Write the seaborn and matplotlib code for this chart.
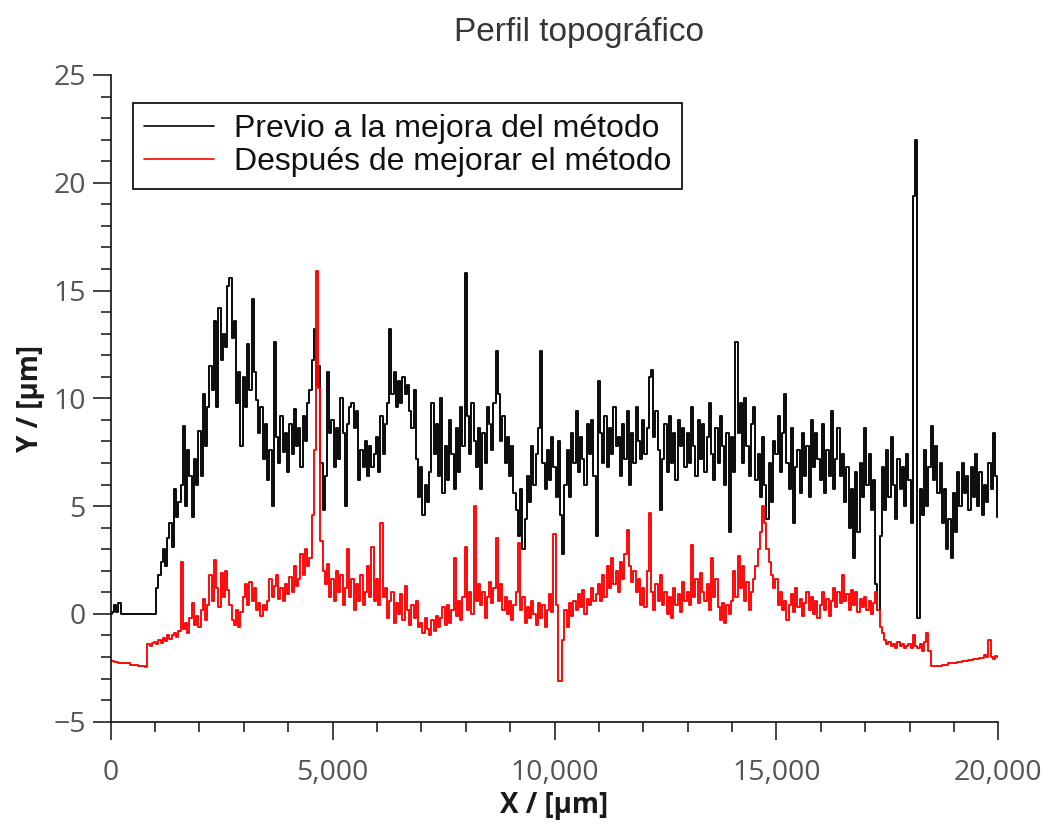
import numpy as np
import pandas as pd
import matplotlib
matplotlib.use("Agg")
import matplotlib.pyplot as plt
import matplotlib.ticker as mticker
import seaborn as sns

# ---------------- data (50 µm step) ----------------
x_step_um = 50
x_um = list(range(0, 20001, x_step_um))

series_prev_name = "Previo a la mejora del método"
series_post_name = "Después de mejorar el método"

y_prev = [
    # 0 - 950
    0, 0.1, 0.4, 0.1, 0.5, 0, 0, 0, 0, 0, 0, 0, 0, 0, 0, 0, 0, 0, 0, 0,
    # 1000 - 1950
    0, 1.2, 1.8, 2.4, 3.0, 2.2, 3.5, 4.2, 3.1, 5.8, 4.5, 5.2, 6.0, 8.7, 5.0, 7.6, 6.4, 4.5, 7.2, 6.0,
    # 2000 - 2950
    8.5, 6.4, 10.2, 7.8, 9.6, 11.5, 10.4, 13.6, 9.6, 14.2, 11.8, 13.0, 12.4, 15.2, 15.6, 12.8, 13.6, 9.8, 11.2, 7.8,
    # 3000 - 3950
    11.0, 9.6, 12.5, 10.4, 14.6, 11.2, 9.9, 8.4, 9.6, 7.2, 8.8, 6.2, 7.6, 5.0, 12.6, 8.2, 7.0, 9.2, 7.5, 8.4,
    # 4000 - 4950
    6.6, 8.8, 7.4, 9.5, 7.8, 8.6, 6.8, 9.2, 8.0, 9.8, 10.4, 11.8, 13.2, 10.6, 11.5, 7.0, 4.8, 6.4, 11.2, 8.4,
    # 5000 - 5950
    9.0, 6.8, 8.6, 7.2, 10.0, 8.4, 5.0, 8.8, 9.6, 9.8, 8.6, 9.4, 6.2, 7.6, 6.8, 8.0, 6.4, 7.8, 6.8, 7.4,
    # 6000 - 6950
    8.2, 6.6, 9.2, 7.4, 8.8, 9.8, 13.2, 10.2, 11.2, 9.6, 10.8, 9.8, 11.0, 10.2, 10.6, 9.4, 8.6, 10.4, 7.2, 5.4,
    # 7000 - 7950
    6.8, 4.6, 6.0, 5.2, 6.6, 9.8, 7.4, 8.8, 6.4, 10.0, 5.6, 7.8, 6.2, 9.0, 7.4, 5.8, 8.6, 6.6, 9.6, 7.8,
    # 8000 - 8950
    15.8, 9.2, 7.4, 9.8, 8.0, 6.8, 8.6, 5.8, 8.4, 7.0, 9.6, 8.8, 7.6, 9.8, 12.2, 10.2, 8.0, 9.2, 7.0, 8.2,
    # 9000 - 9950
    6.4, 7.8, 5.6, 4.8, 3.6, 5.8, 3.0, 4.4, 6.4, 5.2, 7.8, 6.0, 7.4, 8.6, 12.2, 7.0, 5.8, 7.6, 6.2, 8.2,
    # 10000 - 10950
    6.8, 5.4, 8.0, 4.6, 2.8, 6.0, 7.6, 5.4, 8.4, 7.0, 9.4, 6.6, 8.2, 7.2, 6.0, 8.8, 7.4, 9.0, 6.4, 3.6,
    # 11000 - 11950
    10.8, 8.4, 7.0, 9.2, 6.8, 8.6, 7.4, 9.6, 7.8, 8.2, 6.4, 8.8, 7.2, 9.4, 6.0, 8.4, 7.0, 9.6, 8.0, 7.2,
    # 12000 - 12950
    9.0, 7.4, 8.6, 11.0, 11.3, 8.2, 9.4, 7.6, 4.8, 7.2, 8.8, 6.6, 9.2, 7.0, 8.4, 6.2, 9.0, 7.8, 8.6, 6.8,
    # 13000 - 13950
    8.4, 7.0, 9.6, 7.8, 6.4, 9.0, 7.2, 8.8, 6.6, 8.2, 9.8, 7.4, 6.2, 8.6, 7.0, 9.2, 7.8, 6.0, 8.4, 3.8,
    # 14000 - 14950
    8.2, 6.6, 12.6, 8.4, 9.8, 7.0, 10.0, 7.8, 6.4, 8.8, 9.6, 6.2, 7.4, 5.4, 8.2, 6.0, 4.4, 7.0, 5.2, 8.0,
    # 15000 - 15950
    7.4, 9.2, 6.6, 8.4, 10.2, 7.0, 5.8, 8.6, 4.2, 6.8, 7.6, 5.6, 8.4, 6.4, 7.8, 5.4, 9.0, 6.8, 8.4, 7.2,
    # 16000 - 16950
    6.2, 8.8, 5.6, 7.6, 6.4, 9.4, 5.8, 7.2, 8.6, 6.4, 7.4, 5.2, 6.8, 4.0, 5.8, 2.6, 6.6, 3.8, 7.0, 5.4,
    # 17000 - 17950
    8.6, 6.0, 7.4, 4.8, 6.2, 1.4, 0.2, 3.6, 6.8, 4.8, 7.6, 5.4, 8.2, 6.0, 4.4, 7.2, 5.8, 6.8, 5.0, 7.4,
    # 18000 - 18950
    6.2, 4.2, 19.4, 22.0, -0.2, 5.8, 4.6, 7.6, 5.0, 6.8, 8.7, 6.2, 7.8, 5.6, 7.0, 4.2, 5.8, 3.0, 4.4, 2.6,
    # 19000 - 19950
    5.6, 3.8, 6.6, 5.0, 7.0, 5.6, 6.4, 4.8, 6.8, 5.4, 7.4, 5.0, 6.6, 4.6, 6.0, 5.2, 7.0, 5.8, 8.4, 6.4,
    # 20000
    4.5,
]

y_post = [
    # 0 - 950
    -2.2, -2.2, -2.25, -2.25, -2.3, -2.3, -2.3, -2.3, -2.3, -2.35, -2.35, -2.35, -2.35, -2.4, -2.4, -2.4, -2.45, -1.4, -1.5, -1.35,
    # 1000 - 1950
    -1.3, -1.4, -1.2, -1.35, -1.1, -1.25, -1.0, -1.15, -1.0, -0.9, -1.05, -0.8, 2.4, -0.7, -0.4, -0.9, -0.2, 0.5, -0.5, -0.1,
    # 2000 - 2950
    -0.6, 0.2, 0.7, -0.3, 0.4, 1.8, 0.6, 2.5, 1.2, 0.3, 1.9, 0.8, 2.0, 1.1, 0.4, -0.3, -0.5, 0.2, -0.6, 0.1,
    # 3000 - 3950
    0.8, 1.4, 0.4, 1.5, 0.6, 1.2, 0.2, 0.5, -0.1, 0.4, 0.2, 0.6, 1.6, 0.8, 1.3, 1.8, 0.7, 1.2, 0.6, 1.4,
    # 4000 - 4950
    0.9, 1.7, 1.0, 2.2, 1.3, 1.6, 2.8, 1.8, 3.0, 2.2, 2.6, 4.6, 7.6, 15.9, 10.5, 3.4, 2.0, 1.4, 2.3, 0.8,
    # 5000 - 5950
    1.6, 0.6, 2.0, 1.0, 1.8, 0.4, 1.2, 3.0, 0.8, 1.6, 0.2, 1.4, 0.6, 1.8, 0.4, 1.0, 2.2, 0.8, 3.1, 0.6,
    # 6000 - 6950
    1.6, 0.4, 4.2, 0.8, 1.2, -0.2, 0.6, 1.0, -0.4, 0.5, 0.0, 0.9, -0.3, 1.3, 0.2, -0.5, 0.4, -0.2, 0.6, -0.6,
    # 7000 - 7950
    -0.4, -0.9, -0.2, -0.7, -1.0, -0.3, -0.8, -0.1, -0.6, -0.2, 0.3, -0.5, 0.4, -0.4, 0.2, 2.6, -0.1, 0.6, -0.3, 0.8,
    # 8000 - 8950
    3.1, 0.2, 1.0, 0.0, 5.0, 0.6, 1.4, 0.4, 1.0, -0.2, 0.8, 1.5, 0.5, 1.2, 3.5, 0.6, 1.4, 0.2, 0.8, 0.0,
    # 9000 - 9950
    0.6, -0.3, 0.4, 1.0, 3.3, 0.2, 0.8, -0.4, 0.3, -0.2, 0.6, 0.0, -0.5, 0.5, -0.2, 0.4, -0.6, 0.2, 0.9, 0.1,
    # 10000 - 10950
    3.7, 0.4, -3.1, -3.1, -1.2, 0.2, -0.6, 0.5, -0.1, 0.6, 0.2, 0.9, 0.3, 1.1, 0.0, 0.7, 0.4, 1.2, 0.6, 0.9,
    # 11000 - 11950
    1.4, 0.6, 1.8, 0.8, 2.2, 1.2, 2.6, 1.4, 2.0, 1.0, 2.4, 1.6, 2.8, 3.9, 2.2, 1.5, 2.0, 1.0, 1.6, 0.4,
    # 12000 - 12950
    1.2, 0.3, 2.0, 4.7, 1.0, 0.2, 1.4, 0.6, 1.8, 0.4, 1.0, 0.0, 0.8, -0.2, 1.2, 0.4, 0.9, 0.1, 1.5, 0.6,
    # 13000 - 13950
    1.0, 0.4, 3.2, 0.8, 1.6, 0.5, 1.9, 1.0, 0.6, 1.4, 0.2, 2.6, 0.8, 1.6, 0.3, -0.3, 0.5, -0.4, 0.4, 0.0,
    # 14000 - 14950
    0.6, 2.0, 0.8, 2.7, 1.2, 2.2, 0.6, 1.5, 0.2, 1.0, 1.6, 2.2, 3.0, 3.8, 5.0, 4.2, 3.0, 2.4, 1.8, 1.2,
    # 15000 - 15950
    1.6, 0.4, 1.0, 0.2, 0.6, -0.3, 0.4, 0.9, 0.1, 1.2, 0.3, 0.7, -0.1, 0.5, 1.0, 0.2, 0.8, 0.0, 0.6, -0.2,
    # 16000 - 16950
    0.4, 1.0, 0.2, 0.7, -0.1, 0.6, 1.2, 0.3, 1.0, 0.5, 1.8, 0.6, 0.9, 0.2, 1.1, 0.4, 1.0, 0.1, 0.7, 0.3,
    # 17000 - 17950
    0.8, 0.2, 0.6, 0.0, 0.5, 1.0, 0.2, -0.6, -0.9, -1.2, -1.4, -1.3, -1.5, -1.4, -1.6, -1.3, -1.5, -1.4, -1.6, -1.5,
    # 18000 - 18950
    -1.4, -1.6, -1.0, -1.5, -1.6, -1.4, -1.7, -1.3, -0.9, -1.7, -2.4, -2.4, -2.4, -2.4, -2.4, -2.35, -2.35, -2.35, -2.3, -2.3,
    # 19000 - 19950
    -2.3, -2.3, -2.25, -2.25, -2.2, -2.2, -2.2, -2.15, -2.15, -2.1, -2.1, -2.1, -2.05, -2.05, -1.9, -2.0, -1.2, -2.0, -2.1, -1.95,
    # 20000
    -2.0,
]

x_ticks = [0, 5000, 10000, 15000, 20000]
y_ticks = [-5, 0, 5, 10, 15, 20, 25]
title_text = "Perfil topográfico"
x_label = "X / [µm]"
y_label = "Y / [µm]"

# ---------------- figure ----------------
sns.set_style("ticks")
plt.rcParams["font.family"] = ["Open Sans", "DejaVu Sans"]

fig = plt.figure(figsize=(10.49, 8.24), dpi=100)
ax = fig.add_axes([0.1055, 0.1242, 0.9517 - 0.1055, 0.909 - 0.1242])

df = pd.DataFrame({
    "x": x_um * 2,
    "y": y_prev + y_post,
    "serie": [series_prev_name] * len(x_um) + [series_post_name] * len(x_um),
})

sns.lineplot(data=df, x="x", y="y", hue="serie",
             palette={series_prev_name: "#000000", series_post_name: "#ff0000"},
             estimator=None, sort=False, linewidth=1.35,
             drawstyle="steps-mid", ax=ax)

ax.set_xlim(0, 20000)
ax.set_ylim(-5, 25)
ax.set_xticks(x_ticks)
ax.set_yticks(y_ticks)
ax.xaxis.set_minor_locator(mticker.MultipleLocator(1000))
ax.yaxis.set_minor_locator(mticker.MultipleLocator(1))
ax.xaxis.set_major_formatter(mticker.FuncFormatter(lambda v, p: f"{v:,.0f}"))
ax.yaxis.set_major_formatter(mticker.FuncFormatter(lambda v, p: f"{v:.0f}".replace("-", "\u2212")))

for s in ["top", "right"]:
    ax.spines[s].set_visible(False)
for s in ["left", "bottom"]:
    ax.spines[s].set_linewidth(1.2)
    ax.spines[s].set_color("#111111")

ax.tick_params(axis="both", which="major", direction="out", length=13, width=1.1,
               color="#111111", labelsize=20.5, labelcolor="#555555")
ax.tick_params(axis="x", which="major", pad=14)
ax.tick_params(axis="y", which="major", pad=5)
ax.tick_params(axis="both", which="minor", direction="out", length=7.5, width=1.1,
               color="#111111")

ax.set_xlabel(x_label, fontsize=20, fontweight="bold", color="#1a1a1a", labelpad=3)
ax.set_ylabel(y_label, fontsize=20, fontweight="bold", color="#1a1a1a", labelpad=6)

fig.text(579 / 1049, 1 - 33 / 824, title_text, ha="center", va="center",
         fontsize=24, color="#363636", family=["Liberation Sans", "DejaVu Sans"])

handles, labels = ax.get_legend_handles_labels()
leg = ax.legend(handles, labels, loc="upper left",
                bbox_to_anchor=(133 / 1049, 1 - 103 / 824), bbox_transform=fig.transFigure,
                frameon=True, fancybox=False, framealpha=1, edgecolor="#000000",
                prop={"family": ["Liberation Sans", "DejaVu Sans"], "size": 23},
                handlelength=2.2, handletextpad=0.6, borderpad=0.35, labelspacing=0.1,
                borderaxespad=0)
leg.get_frame().set_linewidth(1.2)
for line in leg.get_lines():
    line.set_linewidth(1.2)
for t in leg.get_texts():
    t.set_color("#111111")

fig.savefig("out.png", dpi=100, facecolor="white")
